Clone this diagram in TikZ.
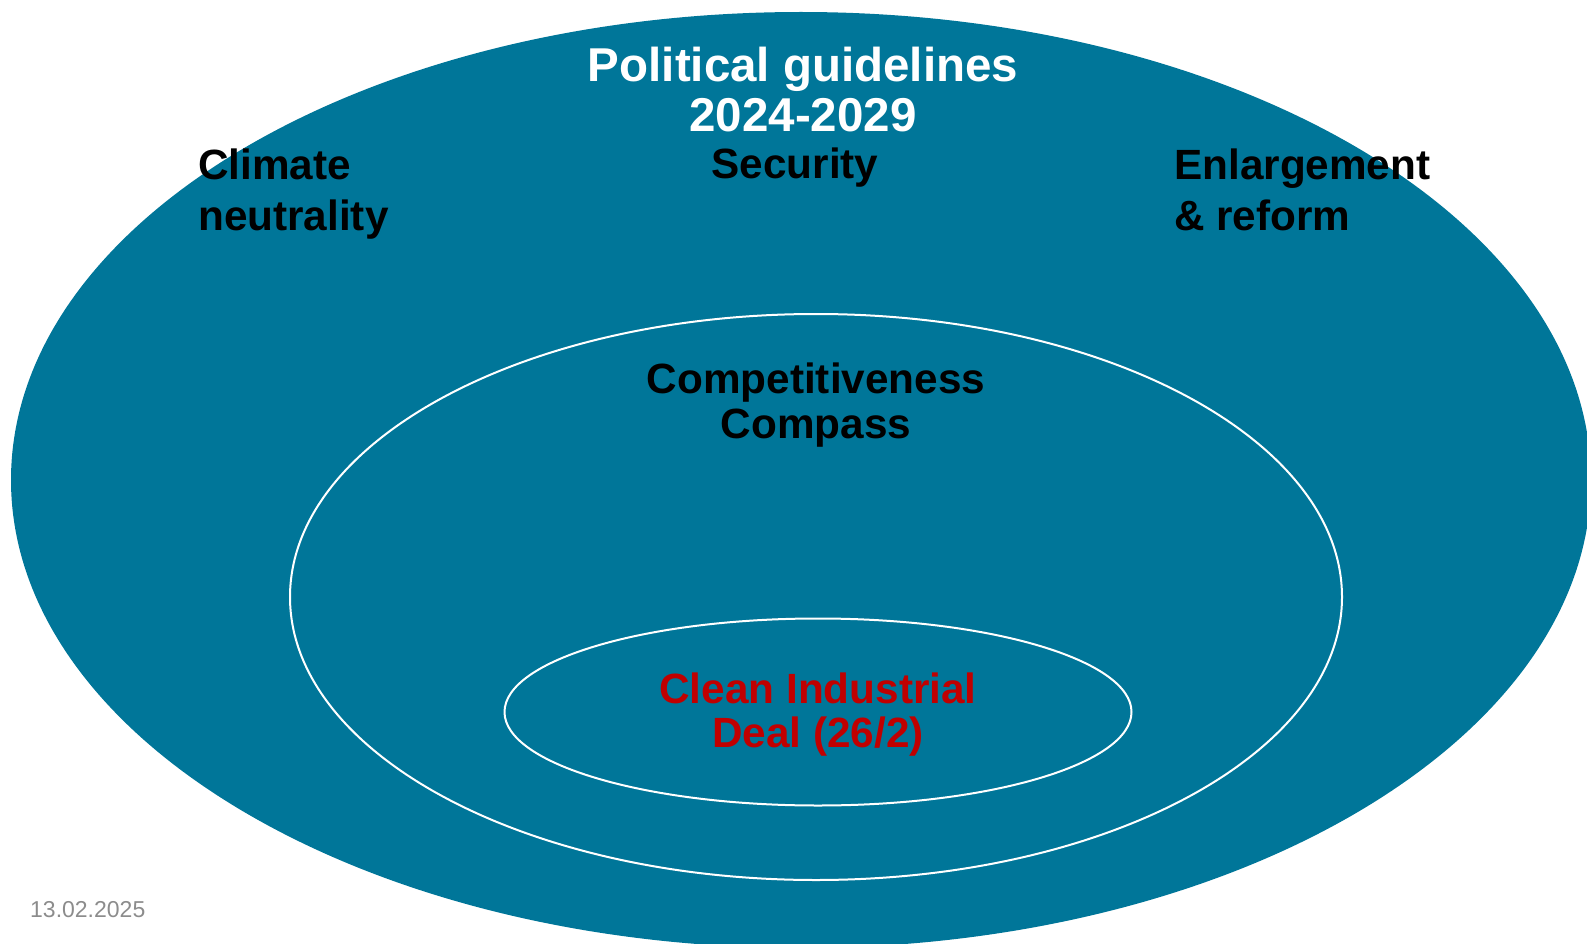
\documentclass[tikz,border=0pt]{standalone}
\usepackage{fontspec}
\setmainfont{Liberation Sans}
\usetikzlibrary{shapes.geometric}
\definecolor{euteal}{RGB}{0,118,153}
\definecolor{dealred}{RGB}{192,0,0}
\definecolor{dategray}{RGB}{140,140,140}
\tikzset{
  ring/.style={ellipse, inner sep=0pt, outer sep=0pt},
  heading/.style={inner sep=0pt, text=black, font=\bfseries\fontsize{42.3}{51}\selectfont},
}
\begin{document}
\begin{tikzpicture}[x=1pt,y=-1pt]
\useasboundingbox (0,0) rectangle (1587,944);
\clip (0,0) rectangle (1587,944);
\node[ring, fill=euteal, minimum width=1580pt, minimum height=936pt] (outer) at (801,480) {};
\node[ring, draw=white, line width=2pt, minimum width=1052pt, minimum height=566pt] (middle) at (816,597) {};
\node[ring, draw=white, line width=2pt, minimum width=627pt, minimum height=187pt] (inner) at (818,712) {};

\node[heading, text=white, align=center, anchor=base, font=\bfseries\fontsize{47.5}{50}\selectfont] (title) at (803,132) {Political guidelines\\2024-2029};
\node[heading, align=left, anchor=base west] (climate) at (198,230) {Climate\\neutrality};
\node[heading, align=center, anchor=base] (security) at (795,179) {Security};
\node[heading, align=left, anchor=base west] (enlarge) at (1174,230) {Enlargement\\\& reform};
\node[heading, align=center, anchor=base, font=\bfseries\fontsize{42.3}{45}\selectfont] (compass) at (816,438) {Competitiveness\\Compass};
\node[heading, text=dealred, align=center, anchor=base, font=\bfseries\fontsize{42.3}{44}\selectfont] (deal) at (818,747) {Clean Industrial\\Deal (26/2)};
\node[inner sep=0pt, anchor=base west, text=dategray, font=\fontsize{23}{27}\selectfont] (date) at (30,917) {13.02.2025};
\end{tikzpicture}
\end{document}
